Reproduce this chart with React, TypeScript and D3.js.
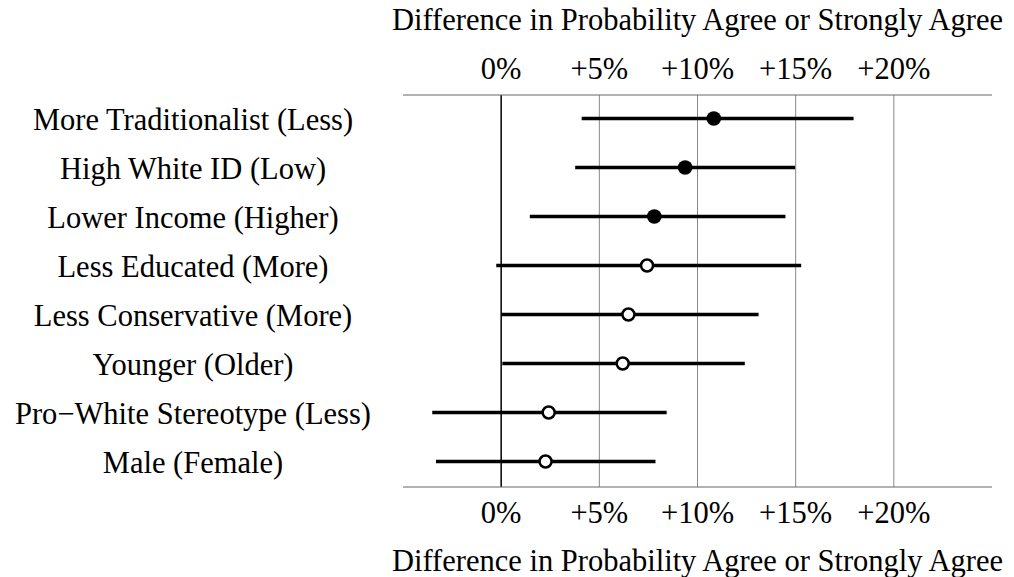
import React from "react";
import * as d3 from "d3";

const categories = [
  "More Traditionalist (Less)",
  "High White ID (Low)",
  "Lower Income (Higher)",
  "Less Educated (More)",
  "Less Conservative (More)",
  "Younger (Older)",
  "Pro\u2212White Stereotype (Less)",
  "Male (Female)",
];
const estimates = [10.83, 9.37, 7.8, 7.43, 6.48, 6.19, 2.42, 2.26];
const lower = [4.1, 3.77, 1.46, -0.25, 0.0, 0.06, -3.51, -3.32];
const upper = [17.95, 14.97, 14.48, 15.28, 13.11, 12.41, 8.43, 7.86];
const significant = [true, true, true, false, false, false, false, false];
const tickValues = [0, 5, 10, 15, 20];
const tickLabels = ["0%", "+5%", "+10%", "+15%", "+20%"];
const axisTitle = "Difference in Probability Agree or Strongly Agree";

const W = 1014;
const H = 577;
const left = 403;
const right = 992;
const top = 95;
const bottom = 487;
const font = "'Liberation Serif', 'Times New Roman', serif";
const fs = 30.5;

export default function App() {
  const x = d3.scaleLinear().domain([-5, 25]).range([left, right]);
  const y = d3
    .scaleBand<string>()
    .domain(categories)
    .range([top, bottom])
    .paddingInner(0)
    .paddingOuter(0);
  const cy = (c: string) => (y(c) as number) + y.bandwidth() / 2 - 1;
  const labelX = 193;
  const titleX = (left + right) / 2;

  return (
    <svg
      width={W}
      height={H}
      style={{ position: "absolute", left: 0, top: 0, background: "#fff" }}
      fontFamily={font}
    >
      <rect x={0} y={0} width={W} height={H} fill="#fff" />
      {tickValues.map((t) => (
        <line
          key={"g" + t}
          x1={x(t)}
          x2={x(t)}
          y1={top}
          y2={bottom}
          stroke={t === 0 ? "#000" : "#888"}
          strokeWidth={t === 0 ? 1.5 : 1}
        />
      ))}
      <line x1={left} x2={right} y1={top} y2={top} stroke="#666" strokeWidth={1.2} />
      <line x1={left} x2={right} y1={bottom} y2={bottom} stroke="#666" strokeWidth={1.2} />
      {tickValues.map((t, i) => (
        <text key={"tt" + t} x={x(t)} y={79} textAnchor="middle" fontSize={fs} fill="#000">
          {tickLabels[i]}
        </text>
      ))}
      {tickValues.map((t, i) => (
        <text key={"tb" + t} x={x(t)} y={523} textAnchor="middle" fontSize={fs} fill="#000">
          {tickLabels[i]}
        </text>
      ))}
      <text x={titleX} y={30} textAnchor="middle" fontSize={fs} fill="#000">
        {axisTitle}
      </text>
      <text x={titleX} y={570.5} textAnchor="middle" fontSize={fs} fill="#000">
        {axisTitle}
      </text>
      {categories.map((c, i) => (
        <g key={c}>
          <text x={labelX} y={cy(c) + 11} textAnchor="middle" fontSize={fs} fill="#000">
            {c}
          </text>
          <line
            x1={x(lower[i])}
            x2={x(upper[i])}
            y1={cy(c)}
            y2={cy(c)}
            stroke="#000"
            strokeWidth={3.5}
          />
          <circle
            cx={x(estimates[i])}
            cy={cy(c)}
            r={significant[i] ? 7.3 : 6}
            fill={significant[i] ? "#000" : "#fff"}
            stroke="#000"
            strokeWidth={significant[i] ? 0 : 2.5}
          />
        </g>
      ))}
    </svg>
  );
}
